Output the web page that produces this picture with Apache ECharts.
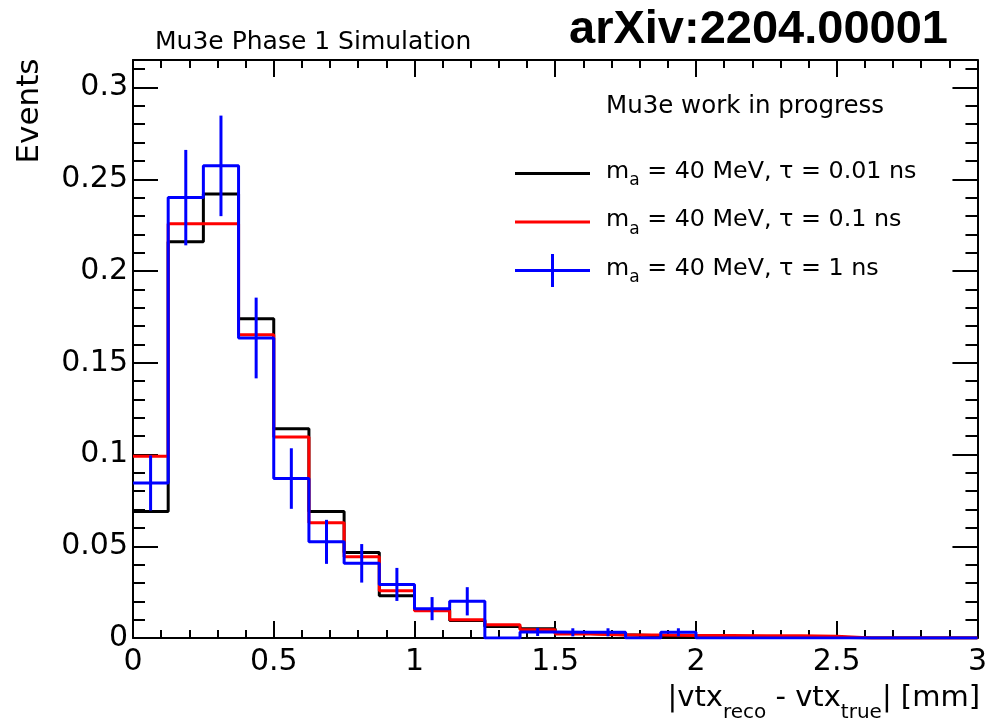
<!DOCTYPE html>
<html><head><meta charset="utf-8">
<script src="https://cdn.jsdelivr.net/npm/echarts@6/dist/echarts.min.js"></script>
<style>html,body{margin:0;padding:0;background:#fff}#c{width:990px;height:724px}</style>
</head><body><div id="c"></div>
<script>
// Bin edges (mm), 0.125 mm bins
const binEdges = [0, 0.125, 0.25, 0.375, 0.5, 0.625, 0.75, 0.875, 1.0, 1.125, 1.25, 1.375, 1.5,
  1.625, 1.75, 1.875, 2.0, 2.125, 2.25, 2.375, 2.5, 2.625, 2.75, 2.875, 3.0];
// tau = 0.01 ns (black)
const valsTau001 = [0.069, 0.216, 0.242, 0.174, 0.114, 0.069, 0.0466, 0.023, 0.0155, 0.0095, 0.0062, 0.0050,
  0.0025, 0.0018, 0.0012, 0.0010, 0.0007, 0.0006, 0.0005, 0.0004, 0, 0, 0, 0];
// tau = 0.1 ns (red)
const valsTau01 = [0.099, 0.2257, 0.2257, 0.1653, 0.1096, 0.0628, 0.0443, 0.0257, 0.0148, 0.0100, 0.0072, 0.0045,
  0.0022, 0.0016, 0.0016, 0.0014, 0.0013, 0.0012, 0.0012, 0.0010, 0, 0, 0, 0];
// tau = 1 ns (blue) with errors
const valsTau1 = [0.0845, 0.240, 0.2573, 0.1635, 0.0869, 0.0524, 0.0407, 0.0292, 0.0160, 0.0200, 0, 0.0033,
  0.0031, 0.0031, 0, 0.0031, 0, 0, 0, 0, 0, 0, 0, 0];
const errTau1 = [0.015, 0.026, 0.0274, 0.022, 0.0165, 0.012, 0.0105, 0.009, 0.0063, 0.0077, 0, 0.0022,
  0.0022, 0.0022, 0, 0.0022, 0, 0, 0, 0, 0, 0, 0, 0];
const seriesNames = ['m_a = 40 MeV, τ = 0.01 ns', 'm_a = 40 MeV, τ = 0.1 ns', 'm_a = 40 MeV, τ = 1 ns'];
const xTickLabels = ['0', '0.5', '1', '1.5', '2', '2.5', '3'];
const yTickLabels = ['0', '0.05', '0.1', '0.15', '0.2', '0.25', '0.3'];

const FONT = 'DejaVu Sans';
function stepData(vals) {
  const d = vals.map((v, i) => [binEdges[i], v]);
  d.push([binEdges[binEdges.length - 1], vals[vals.length - 1]]);
  return d;
}
const errData = [];
valsTau1.forEach((v, i) => {
  if (errTau1[i] > 0) errData.push([(binEdges[i] + binEdges[i + 1]) / 2, v, errTau1[i]]);
});

const chart = echarts.init(document.getElementById('c'));
const tickCommon = (len, minorLen) => ({
  axisTick: { show: true, inside: true, length: len, lineStyle: { color: '#000', width: 2 } },
  minorTick: { show: true, splitNumber: 5, length: minorLen, lineStyle: { color: '#000', width: 2 } },
  axisLine: { show: true, onZero: false, lineStyle: { color: '#000', width: 2 } },
  splitLine: { show: false }
});
const lineSeries = (name, vals, color, z) => ({
  name, type: 'line', step: 'end', data: stepData(vals), showSymbol: false, symbol: 'none',
  lineStyle: { color, width: 3 }, itemStyle: { color }, z, silent: true, animation: false,
  xAxisIndex: 0, yAxisIndex: 0
});
const legendRich = {
  n: { fontSize: 23.8, fontFamily: FONT, color: '#000', lineHeight: 24, verticalAlign: 'top' },
  s: { fontSize: 17, fontFamily: FONT, color: '#000', lineHeight: 17, verticalAlign: 'top', padding: [13, 0, 0, 0] }
};
const option = {
  backgroundColor: '#fff',
  animation: false,
  grid: { left: 133, right: 6, top: 60, bottom: 86, containLabel: false },
  xAxis: [
    Object.assign({
      type: 'value', min: 0, max: 3, interval: 0.5, position: 'bottom',
      axisLabel: { show: true, fontSize: 30, fontFamily: FONT, color: '#000', margin: 9,
        formatter: v => xTickLabels[Math.round(v / 0.5)] }
    }, tickCommon(17, 8)),
    Object.assign({
      type: 'value', min: 0, max: 3, interval: 0.5, position: 'top',
      axisLabel: { show: false }
    }, tickCommon(17, 8))
  ],
  yAxis: [
    Object.assign({
      type: 'value', min: 0, max: 0.315, interval: 0.05, position: 'left',
      axisLabel: { show: true, fontSize: 30, fontFamily: FONT, color: '#000', margin: 5,
        formatter: v => { const k = Math.round(v / 0.05); return Math.abs(v - k * 0.05) < 1e-6 ? yTickLabels[k] : ''; } }
    }, tickCommon(25, 12)),
    Object.assign({
      type: 'value', min: 0, max: 0.315, interval: 0.05, position: 'right',
      axisLabel: { show: false }
    }, tickCommon(25, 12))
  ],
  legend: {
    orient: 'vertical', left: 515, top: 157, padding: 0, itemGap: 15.5,
    itemWidth: 75, itemHeight: 33, selectedMode: false,
    data: [
      { name: seriesNames[0], icon: 'path://M0,15h75v3h-75zM0,0h0v33h0z', itemStyle: { color: '#000' } },
      { name: seriesNames[1], icon: 'path://M0,15h75v3h-75zM0,0h0v33h0z', itemStyle: { color: '#ff0000' } },
      { name: seriesNames[2], icon: 'path://M0,15h75v3h-75zM36,0h3v33h-3z', itemStyle: { color: '#0000ff' } }
    ],
    formatter: name => '{n|m}{s|a}{n|' + name.slice(3) + '}',
    textStyle: { fontSize: 23.8, fontFamily: FONT, color: '#000', padding: [0, 0, 4, 11], rich: legendRich }
  },
  series: [
    lineSeries(seriesNames[0], valsTau001, '#000000', 2),
    lineSeries(seriesNames[1], valsTau01, '#ff0000', 3),
    lineSeries(seriesNames[2], valsTau1, '#0000ff', 4),
    {
      type: 'custom', name: 'err', data: errData, z: 5, silent: true,
      renderItem: (params, api) => {
        const x = api.value(0), y = api.value(1), e = api.value(2);
        const p1 = api.coord([x, y - e]), p2 = api.coord([x, y + e]);
        return { type: 'line', shape: { x1: p1[0], y1: p1[1], x2: p2[0], y2: p2[1] },
          style: { stroke: '#0000ff', lineWidth: 3 } };
      }
    }
  ],
  graphic: [
    { type: 'text', left: 155, top: 30, style: { text: 'Mu3e Phase 1 Simulation', font: '25px "DejaVu Sans"', fill: '#000' } },
    { type: 'text', left: 569, top: 7, style: { text: 'arXiv:2204.00001', font: 'bold 47px "Liberation Sans"', fill: '#000' } },
    { type: 'text', left: 606, top: 94, style: { text: 'Mu3e work in progress', font: '24.5px "DejaVu Sans"', fill: '#000' } },
    { type: 'text', x: 30, y: 111, rotation: Math.PI / 2,
      style: { text: 'Events', font: '31px "DejaVu Sans"', fill: '#000', align: 'center', verticalAlign: 'middle' } },
    { type: 'text', x: 980, y: 684,
      style: { text: '{n||vtx}{s|reco}{n| - vtx}{s|true}{n|| [mm]}', align: 'right', verticalAlign: 'top',
        rich: {
          n: { fontSize: 29, fontFamily: FONT, color: '#000', lineHeight: 30, verticalAlign: 'top' },
          s: { fontSize: 20, fontFamily: FONT, color: '#000', lineHeight: 20, verticalAlign: 'top', padding: [19, 0, 0, 0] }
        } } }
  ]
};
chart.setOption(option);
</script>
</body></html>
